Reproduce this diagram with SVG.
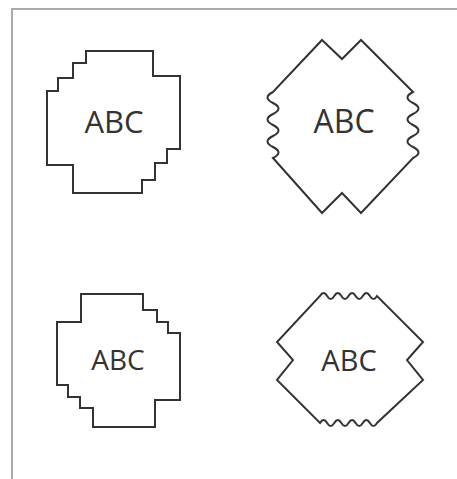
<svg xmlns="http://www.w3.org/2000/svg" width="457" height="479" viewBox="0 0 457 479">
<style>
.s{fill:#fff;stroke:#333;stroke-width:2;stroke-linejoin:miter}
.t{font-family:"Open Sans","Noto Sans",sans-serif;fill:#333;text-anchor:middle}
</style>
<rect x="0" y="0" width="457" height="479" fill="#fff"/>
<rect x="12" y="9" width="460" height="480" fill="#fff" stroke="#aaa" stroke-width="2"/>
<g id="node1">
<path class="s" d="M86,51 H153 V76 H180 V149 H167 V163 H155 V180 H142 V193 H73 V165 H47 V91 H58 V78 H73 V63 H86 Z"/>
<text class="t" x="114" y="133" font-size="31">ABC</text>
</g>
<g id="node2">
<path class="s" d="M322,40 L342,59 L361,40 L413,92 q-11,5.5 0,11 t0,11 t0,11 t0,11 t0,11 t0,11 L361,213 L342,193 L322,213 L273,158 q11,-5.5 0,-11 t0,-11 t0,-11 t0,-11 t0,-11 t0,-11 Z"/>
<text class="t" x="344" y="133" font-size="32">ABC</text>
</g>
<g id="node3">
<path class="s" d="M81,294 H143 V310 H157 V322 H168 V333 H180 V400 H155 V427 H93 V408 H80 V397 H68 V385 H57 V322 H81 Z"/>
<text class="t" x="118" y="370" font-size="28">ABC</text>
</g>
<g id="node4">
<path class="s" d="M320,296 q3.56,-6 7.125,0 t7.125,0 t7.125,0 t7.125,0 t7.125,0 t7.125,0 t7.125,0 t7.125,0 L423,342 L407,360 L423,380 L377,423 q-3.56,6 -7.125,0 t-7.125,0 t-7.125,0 t-7.125,0 t-7.125,0 t-7.125,0 t-7.125,0 t-7.125,0 L277,380 L293,360 L277,342 Z"/>
<text class="t" x="349" y="371" font-size="29">ABC</text>
</g>
</svg>
